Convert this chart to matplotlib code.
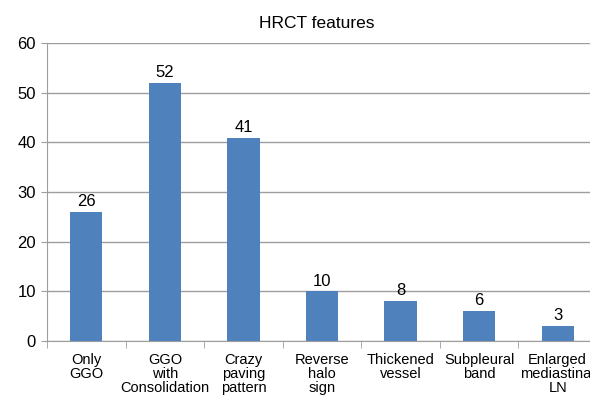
import matplotlib.pyplot as plt
import numpy as np

plt.rcParams['font.family'] = ['Liberation Sans', 'DejaVu Sans']

categories = ['Only\nGGO', 'GGO\nwith\nConsolidation', 'Crazy\npaving\npattern',
              'Reverse\nhalo\nsign', 'Thickened\nvessel', 'Subpleural\nband',
              'Enlarged\nmediastinal\nLN']
counts = [26, 52, 41, 10, 8, 6, 3]

fig = plt.figure(figsize=(5.9, 4.04), dpi=100)
# axes runs a bit past the right edge, like the cropped original
ax = fig.add_axes([0.0797, 0.156, 0.932, 0.737])

x = np.arange(len(categories))
bars = ax.bar(x, counts, width=0.41, color='#4f81bd', zorder=3)
for b, v in zip(bars, counts):
    ax.annotate(str(v), (b.get_x() + b.get_width() / 2, v),
                xytext=(0, 2), textcoords='offset points',
                ha='center', va='bottom', fontsize=12)

ax.set_xlim(-0.5, len(categories) - 0.5)
ax.set_ylim(0, 60)
ax.set_yticks(range(0, 61, 10))
ax.grid(axis='y', color='#9e9e9e', linewidth=1, zorder=0)
ax.tick_params(axis='y', labelsize=12, length=4, color='#9e9e9e', pad=4)

ax.set_xticks(x)
ax.set_xticklabels(categories, fontsize=10.5, linespacing=1.0)
ax.tick_params(axis='x', length=0, pad=9)
ax.set_xticks(np.arange(-0.5, len(categories), 1), minor=True)
ax.tick_params(axis='x', which='minor', length=5, color='#9e9e9e')

for s in ['top', 'right']:
    ax.spines[s].set_visible(False)
ax.spines['left'].set_color('#9e9e9e')
ax.spines['bottom'].set_color('#9e9e9e')

fig.text(0.537, 0.943, 'HRCT features', ha='center', va='center', fontsize=12.5)

fig.savefig('out.png', dpi=100)
